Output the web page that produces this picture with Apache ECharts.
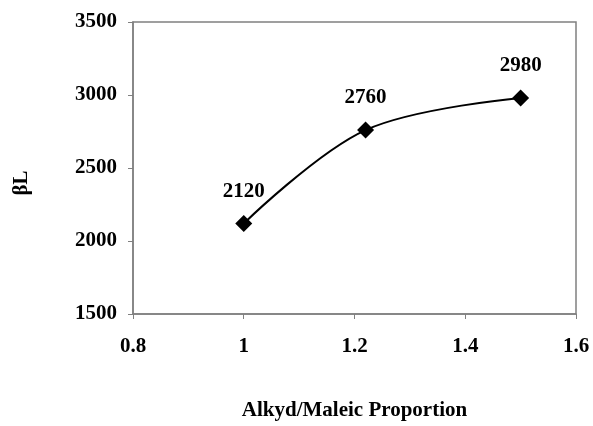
<!DOCTYPE html>
<html>
<head>
<meta charset="utf-8">
<style>html,body{margin:0;padding:0;background:#fff;}#c{width:593px;height:426px;}</style>
<script src="https://cdn.jsdelivr.net/npm/echarts@6/dist/echarts.min.js"></script>
</head>
<body>
<div id="c"></div>
<script>
var proportions = [1, 1.22, 1.5];
var betaL = [2120, 2760, 2980];
var xTicks = [0.8, 1, 1.2, 1.4, 1.6];
var yTicks = [1500, 2000, 2500, 3000, 3500];

var chart = echarts.init(document.getElementById('c'));
var font = '"Liberation Serif", "Times New Roman", serif';
var axisGrey = '#808080';
chart.setOption({
  animation: false,
  backgroundColor: '#fff',
  grid: {left: 133, right: 17, top: 22, bottom: 107, show: true, borderColor: axisGrey, borderWidth: 1.5, containLabel: false},
  xAxis: {
    type: 'value', min: xTicks[0], max: xTicks[xTicks.length - 1], interval: 0.2,
    name: 'Alkyd/Maleic Proportion', nameLocation: 'middle', nameGap: 86,
    nameTextStyle: {fontFamily: font, fontWeight: 'bold', fontSize: 21, color: '#000'},
    axisLine: {show: true, lineStyle: {color: axisGrey, width: 1.5}},
    axisTick: {show: true, length: 5, lineStyle: {color: axisGrey}},
    splitLine: {show: false},
    axisLabel: {fontFamily: font, fontWeight: 'bold', fontSize: 21, color: '#000', margin: 22,
      formatter: function (v) { return String(Math.round(v * 10) / 10); }}
  },
  yAxis: {
    type: 'value', min: yTicks[0], max: yTicks[yTicks.length - 1], interval: 500,
    axisLine: {show: true, lineStyle: {color: axisGrey, width: 1.5}},
    axisTick: {show: true, length: 5, lineStyle: {color: axisGrey}},
    splitLine: {show: false},
    axisLabel: {fontFamily: font, fontWeight: 'bold', fontSize: 21, color: '#000', margin: 16,
      formatter: function (v) { return String(v); }}
  },
  graphic: [{
    type: 'text', x: 22, y: 183, rotation: Math.PI / 2,
    style: {text: 'βL', fontFamily: font, fontWeight: 'bold', fontSize: 21, fill: '#000', align: 'center', verticalAlign: 'middle'}
  }],
  series: [{
    type: 'line',
    data: proportions.map(function (x, i) { return [x, betaL[i]]; }),
    smooth: 0.35,
    symbol: 'diamond', symbolSize: 17,
    itemStyle: {color: '#000'},
    lineStyle: {color: '#000', width: 2},
    label: {show: true, position: 'top', distance: 13, fontFamily: font, fontWeight: 'bold', fontSize: 21, color: '#000',
      formatter: function (p) { return p.value[1]; }}
  }]
});
</script>
</body>
</html>
